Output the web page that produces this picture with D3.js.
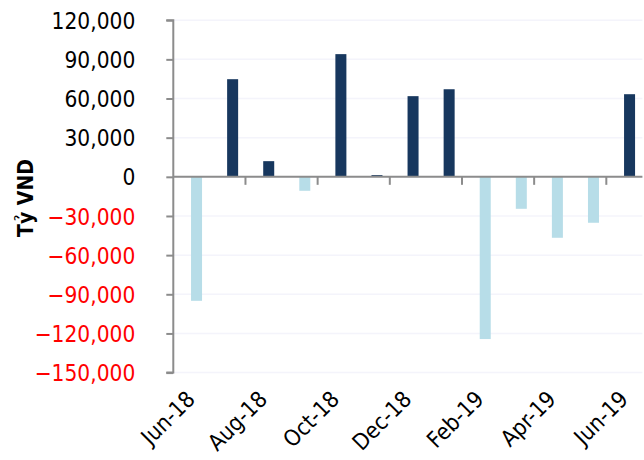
<!DOCTYPE html>
<html>
<head>
<meta charset="utf-8">
<script src="https://cdn.jsdelivr.net/npm/d3@7"></script>
<style>
  html, body { margin: 0; padding: 0; background: #fff; }
  svg { display: block; }
  text { font-family: "DejaVu Sans Condensed", "DejaVu Sans", sans-serif; font-stretch: condensed; }
</style>
</head>
<body>
<svg id="chart" width="644" height="460"></svg>
<script>
// Monthly net flow, billion VND
const months = ["Jun-18","Jul-18","Aug-18","Sep-18","Oct-18","Nov-18","Dec-18",
                "Jan-19","Feb-19","Mar-19","Apr-19","May-19","Jun-19"];
const values = [-95000, 74800, 12000, -10700, 94000, 1300, 61800,
                67100, -124300, -24500, -46700, -35200, 63300];
const yTicks = [-150000, -120000, -90000, -60000, -30000, 0, 30000, 60000, 90000, 120000];
const xLabelMonths = ["Jun-18","Aug-18","Oct-18","Dec-18","Feb-19","Apr-19","Jun-19"];
const yTitle = "Tỷ VND";

const svg = d3.select("#chart");
const plot = { left: 173.3, right: 642.4, top: 20.2, bottom: 372.6 };

const x = d3.scaleBand().domain(months).range([plot.left, plot.right]).padding(0);
const y = d3.scaleLinear().domain([-150000, 120000]).range([plot.bottom, plot.top]);
const bw = x.bandwidth();

const axisColor = "#8c8c8c";
const fontSize = 22.5;

// faint horizontal gridlines
svg.append("g")
  .selectAll("line")
  .data(yTicks)
  .join("line")
  .attr("x1", plot.left)
  .attr("x2", plot.right)
  .attr("y1", d => y(d))
  .attr("y2", d => y(d))
  .attr("stroke", "#f4f4fb")
  .attr("stroke-width", 1.5);

// bars: positive months dark navy, negative months light blue
svg.append("g")
  .selectAll("rect")
  .data(months.map((m, i) => ({ m, v: values[i] })))
  .join("rect")
  .attr("x", d => x(d.m) + bw / 2 - 0.3)
  .attr("width", bw * 0.305)
  .attr("y", d => y(Math.max(0, d.v)))
  .attr("height", d => Math.abs(y(d.v) - y(0)))
  .attr("fill", d => d.v >= 0 ? "#17375e" : "#b7dde8");

// y axis
const yAxis = svg.append("g")
  .attr("transform", `translate(${plot.left},0)`)
  .call(d3.axisLeft(y).tickValues(yTicks).tickSize(7).tickPadding(31)
    .tickFormat(d3.format(",")));
yAxis.select(".domain").attr("stroke", axisColor).attr("stroke-width", 2)
  .attr("d", `M-7,${plot.top}H0V${plot.bottom}H-7`);
yAxis.selectAll(".tick line").attr("stroke", axisColor).attr("stroke-width", 2);
yAxis.selectAll(".tick text")
  .attr("font-size", fontSize)
  .attr("font-family", null)
  .attr("fill", d => d < 0 ? "#ff0000" : "#000000")
  .attr("dy", "0.36em");

// zero baseline with category tick marks
const xAxis = svg.append("g")
  .attr("transform", `translate(0,${y(0)})`);
xAxis.append("line")
  .attr("x1", plot.left).attr("x2", plot.right)
  .attr("stroke", axisColor).attr("stroke-width", 2);
xAxis.selectAll("line.tick")
  .data(months.filter((m, i) => i > 0 && i % 2 === 0))
  .join("line")
  .attr("class", "tick")
  .attr("x1", d => x(d)).attr("x2", d => x(d))
  .attr("y1", 0).attr("y2", 8)
  .attr("stroke", axisColor).attr("stroke-width", 2);

// rotated month labels under the plot
svg.append("g")
  .selectAll("text")
  .data(xLabelMonths)
  .join("text")
  .attr("transform", d => `translate(${x(d) + bw / 2 + 5},${plot.bottom + 28}) rotate(-45)`)
  .attr("text-anchor", "end")
  .attr("font-size", fontSize)
  .attr("fill", "#000")
  .text(d => d);

// y-axis title
svg.append("text")
  .attr("transform", `translate(33,198) rotate(-90)`)
  .attr("text-anchor", "middle")
  .attr("font-size", 21)
  .attr("font-weight", "bold")
  .attr("fill", "#000")
  .text(yTitle);
</script>
</body>
</html>
